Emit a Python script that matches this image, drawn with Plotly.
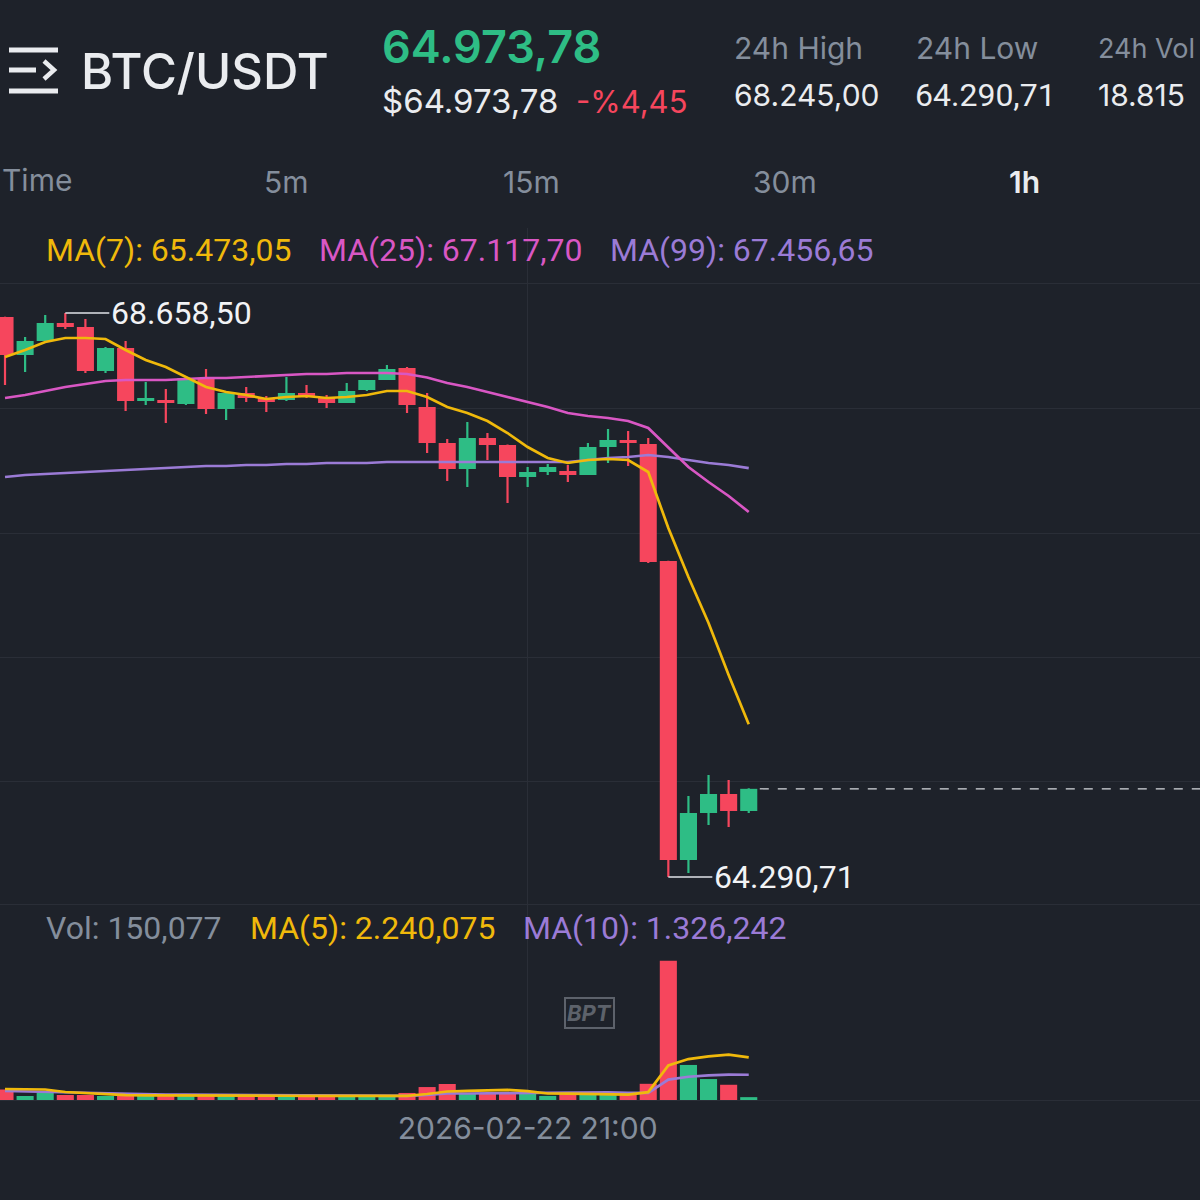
import plotly.graph_objects as go
import pandas as pd

# ---------------- data ----------------
times = pd.date_range("2026-02-21 19:00", periods=38, freq="h")

open_ = [68627.6, 68333.3, 68441.7, 68581.1, 68550.1, 68209.4, 68387.5, 67977.1, 67984.8, 67953.8,
         68155.2, 67915.1, 68039.0, 68000.3, 67984.8, 68039.0, 68008.0, 67961.6, 68062.2, 68139.7,
         68232.6, 67930.6, 67651.8, 67450.5, 67690.5, 67636.3, 67388.5, 67427.2, 67435.0, 67404.0,
         67620.8, 67675.0, 67644.1, 66738.0, 64422.6, 64786.5, 64933.7, 64802.0]
high = [68630.0, 68472.7, 68643.0, 68658.5, 68612.1, 68395.2, 68441.7, 68124.2, 68070.0, 68162.9,
        68224.9, 68046.8, 68085.5, 68015.8, 68162.9, 68101.0, 68023.5, 68116.4, 68070.0, 68255.8,
        68240.4, 68039.0, 67682.8, 67814.4, 67729.2, 67640.0, 67466.0, 67489.2, 67481.4, 67651.8,
        67760.2, 67744.7, 67690.5, 66740.0, 64918.2, 65080.8, 65042.1, 64978.0]
low = [68101.0, 68201.6, 68426.0, 68534.6, 68193.9, 68193.9, 67899.6, 67946.1, 67806.7, 67946.1,
       67876.4, 67829.9, 67969.3, 67891.9, 67977.1, 68000.3, 67922.8, 67961.6, 68054.5, 68139.7,
       67884.1, 67574.4, 67357.5, 67311.1, 67520.2, 67187.2, 67311.1, 67404.0, 67349.8, 67404.0,
       67496.9, 67473.7, 66722.5, 64290.71, 64321.9, 64693.6, 64678.1, 64786.5]
close = [68333.3, 68441.7, 68581.1, 68550.1, 68209.4, 68387.5, 67977.1, 68000.3, 67961.6, 68155.2,
         67915.1, 68039.0, 68000.3, 67969.3, 68039.0, 68008.0, 67961.6, 68054.5, 68139.7, 68224.9,
         67946.1, 67651.8, 67450.5, 67690.5, 67636.3, 67388.5, 67427.2, 67466.0, 67404.0, 67620.8,
         67675.0, 67651.8, 66730.3, 64422.6, 64786.5, 64933.7, 64802.0, 64973.78]

ma7 = [68317.8, 68372.0, 68434.0, 68464.9, 68464.9, 68457.2, 68372.0, 68294.6, 68240.4, 68162.9,
       68085.5, 68046.8, 68023.5, 67992.5, 68008.0, 68015.8, 68000.3, 68008.0, 68023.5, 68054.5,
       68054.5, 68008.0, 67930.6, 67884.1, 67822.2, 67729.2, 67620.8, 67535.6, 67496.9, 67520.2,
       67527.9, 67520.2, 67427.2, 66993.6, 66614.1, 66257.9, 65855.2, 65473.05]
ma25 = [68000.3, 68023.5, 68054.5, 68085.5, 68108.7, 68131.9, 68139.7, 68139.7, 68139.7, 68147.4,
        68155.2, 68155.2, 68162.9, 68170.7, 68178.4, 68186.1, 68186.1, 68193.9, 68193.9, 68193.9,
        68186.1, 68159.0, 68116.5, 68085.5, 68046.8, 68008.0, 67969.3, 67930.6, 67884.1, 67860.9,
        67845.4, 67822.2, 67768.0, 67620.8, 67466.0, 67349.8, 67241.4, 67117.70]
ma99 = [67388.5, 67404.0, 67411.7, 67419.5, 67427.2, 67435.0, 67442.7, 67450.5, 67458.2, 67466.0,
        67473.7, 67473.7, 67481.4, 67481.4, 67489.2, 67489.2, 67496.9, 67496.9, 67496.9, 67504.7,
        67504.7, 67504.7, 67504.7, 67504.7, 67504.7, 67504.7, 67504.7, 67504.7, 67504.7, 67520.2,
        67535.6, 67543.4, 67558.9, 67543.4, 67520.2, 67496.9, 67481.4, 67456.65]

volume = [551, 210, 367, 262, 262, 210, 262, 255, 250, 258,
          262, 215, 205, 220, 210, 215, 205, 185, 180, 160,
          370, 680, 840, 360, 350, 420, 365, 215, 320, 270,
          265, 355, 850, 7310, 1840, 1100, 800, 150.077]
vol_ma5 = [577, 577, 550, 420, 367, 280, 253, 248, 248, 251,
           257, 248, 238, 232, 222, 213, 211, 207, 197, 189,
           220, 315, 446, 482, 520, 530, 467, 342, 334, 318,
           287, 285, 412, 1810, 2150, 2291, 2380, 2240.075]
vol_ma10 = [472, 446, 420, 394, 367, 341, 315, 300, 290, 282,
            275, 262, 246, 241, 236, 228, 222, 218, 214, 208,
            217, 263, 349, 341, 355, 375, 391, 394, 408, 419,
            408, 376, 377, 1072, 1221, 1289, 1332, 1326.242]

price_grid = [68890.8, 67922.8, 66954.8, 65994.4, 65034.3, 64074.1]

pair = "BTC/USDT"
last_price = 64973.78
change_pct = -4.45
high_24h = 68245.00
low_24h = 64290.71
vol_24h_text = "18.815"
tabs = ["Time", "5m", "15m", "30m", "1h"]
active_tab = "1h"
date_label_index = 26

# ---------------- style ----------------
BG = "#1e222a"
GRID = "#2a2e37"
GREEN = "#2ebd85"
RED = "#f6465d"
YEL = "#f0b90b"
MAG = "#d957c4"
PUR = "#9b7bd6"
GREY = "#848e9c"
WHITE = "#eaecef"
FONT = "Inter, Roboto, sans-serif"
NUMFONT = "Roboto, Inter, sans-serif"


def eu(v, d):
    s = f"{v:,.{d}f}"
    return s.replace(",", "X").replace(".", ",").replace("X", ".")


def px_x(p):
    return p / 1200.0


def px_y(p):
    return 1 - p / 1200.0


colors = [GREEN if c >= o else RED for o, c in zip(open_, close)]
body_base = [min(o, c) for o, c in zip(open_, close)]
body_h = [abs(c - o) for o, c in zip(open_, close)]
wick_h = [h - l for h, l in zip(high, low)]

hour_ms = 3600 * 1000
fig = go.Figure()

# wicks
fig.add_trace(go.Bar(x=times, y=wick_h, base=low, width=0.11 * hour_ms,
                     marker=dict(color=colors, line=dict(width=0)),
                     xaxis="x", yaxis="y", hoverinfo="skip"))
# bodies
fig.add_trace(go.Bar(x=times, y=body_h, base=body_base, width=0.85 * hour_ms,
                     marker=dict(color=colors, line=dict(width=0)),
                     xaxis="x", yaxis="y", hoverinfo="skip"))
# MAs
for arr, col in [(ma99, PUR), (ma25, MAG), (ma7, YEL)]:
    fig.add_trace(go.Scatter(x=times, y=arr, mode="lines",
                             line=dict(color=col, width=2.7), xaxis="x", yaxis="y",
                             hoverinfo="skip"))

# volume
fig.add_trace(go.Bar(x=times, y=volume, width=0.85 * hour_ms,
                     marker=dict(color=colors, line=dict(width=0)),
                     xaxis="x2", yaxis="y2", hoverinfo="skip"))
for arr, col in [(vol_ma10, PUR), (vol_ma5, YEL)]:
    fig.add_trace(go.Scatter(x=times, y=arr, mode="lines",
                             line=dict(color=col, width=2.7), xaxis="x2", yaxis="y2",
                             hoverinfo="skip"))

t0 = times[0]
x_range = [t0 - pd.Timedelta(hours=0.249), t0 + pd.Timedelta(hours=59.45)]

annotations = []


def txt(text, x, y, size, color, xanchor="left", weight=400, family=FONT):
    annotations.append(dict(text=text, x=x, y=y, xref="paper", yref="paper",
                            xanchor=xanchor, yanchor="middle", showarrow=False,
                            font=dict(family=family, size=size, color=color, weight=weight)))


# header
txt(pair, px_x(79), px_y(71), 49, WHITE, weight=500)
txt(eu(last_price, 2), px_x(380), px_y(46), 45, GREEN, weight=600)
txt("$" + eu(last_price, 2), px_x(380), px_y(101), 33, WHITE)
txt(("-" if change_pct < 0 else "+") + "%" + eu(abs(change_pct), 2), px_x(574), px_y(101), 31, RED)
txt("24h High", px_x(732), px_y(48), 30, GREY)
txt(eu(high_24h, 2), px_x(732), px_y(95), 30, WHITE)
txt("24h Low", px_x(914), px_y(48), 30, GREY)
txt(eu(low_24h, 2), px_x(913), px_y(95), 32, WHITE, family=NUMFONT)
txt("24h Vol", px_x(1096), px_y(48), 27, GREY)
txt(vol_24h_text, px_x(1096), px_y(95), 30, WHITE)

# tabs
tab_x = [0, 286, 531, 785, 1024]
for t, xx in zip(tabs, tab_x):
    if t == "Time":
        txt(t, px_x(xx), px_y(180), 30, GREY, xanchor="left")
    else:
        txt(t, px_x(xx), px_y(182), 30, WHITE if t == active_tab else GREY,
            xanchor="center", weight=600 if t == active_tab else 400)

# MA legend
txt(f"MA(7): {eu(ma7[-1], 2)}", px_x(44), px_y(250), 32, YEL, family=NUMFONT)
txt(f"MA(25): {eu(ma25[-1], 2)}", px_x(317), px_y(250), 32, MAG, family=NUMFONT)
txt(f"MA(99): {eu(ma99[-1], 2)}", px_x(608), px_y(250), 32, PUR, family=NUMFONT)

# volume legend
txt(f"Vol: {eu(volume[-1], 3)}", px_x(44), px_y(928), 32, GREY, family=NUMFONT)
txt(f"MA(5): {eu(vol_ma5[-1], 3)}", px_x(248), px_y(928), 32, YEL, family=NUMFONT)
txt(f"MA(10): {eu(vol_ma10[-1], 3)}", px_x(521), px_y(928), 32, PUR, family=NUMFONT)

# high / low markers
i_hi = max(range(len(high)), key=lambda i: high[i])
i_lo = min(range(len(low)), key=lambda i: low[i])
for i, val in [(i_hi, high[i_hi]), (i_lo, low[i_lo])]:
    annotations.append(dict(x=times[i], y=val, xref="x", yref="y", text=eu(val, 2),
                            showarrow=True, ax=44, ay=0, xanchor="left", yanchor="middle",
                            arrowhead=0, arrowwidth=1.3, arrowcolor="#dfe2e7", standoff=0,
                            font=dict(family=NUMFONT, size=32, color="#f2f3f5")))

# watermark
annotations.append(dict(text="<b><i>BPT</i></b>", x=px_x(589), y=px_y(1029), xref="paper", yref="paper",
                        showarrow=False, font=dict(family=FONT, size=22, color="#5d626b"),
                        bordercolor="#5d626b", borderwidth=2, borderpad=1))

shapes = [
    # menu icon
    dict(type="line", xref="paper", yref="paper", x0=px_x(9), x1=px_x(58), y0=px_y(50), y1=px_y(50),
         line=dict(color=WHITE, width=5)),
    dict(type="line", xref="paper", yref="paper", x0=px_x(9), x1=px_x(36), y0=px_y(70), y1=px_y(70),
         line=dict(color=WHITE, width=5)),
    dict(type="line", xref="paper", yref="paper", x0=px_x(9), x1=px_x(58), y0=px_y(91), y1=px_y(91),
         line=dict(color=WHITE, width=5)),
    dict(type="path", xref="paper", yref="paper",
         path=f"M {px_x(44)},{px_y(61)} L {px_x(54)},{px_y(70)} L {px_x(44)},{px_y(79)}",
         line=dict(color=WHITE, width=4.5)),
    # current price dashed line
    dict(type="line", xref="x", yref="y",
         x0=times[-1] + pd.Timedelta(hours=0.55), x1=x_range[1],
         y0=close[-1], y1=close[-1], line=dict(color="#d6d9de", width=1.2, dash="dash")),
]

fig.update_layout(
    width=1200, height=1200,
    margin=dict(l=0, r=0, t=0, b=0),
    paper_bgcolor=BG, plot_bgcolor=BG,
    showlegend=False, barmode="overlay",
    font=dict(family=FONT, color=GREY),
    xaxis=dict(domain=[0, 1], anchor="y", range=x_range, showticklabels=False,
               showgrid=True, gridcolor=GRID, gridwidth=1, tickvals=[times[date_label_index]],
               zeroline=False, showline=False, fixedrange=True),
    xaxis2=dict(domain=[0, 1], anchor="y2", range=x_range, matches="x",
                showgrid=True, gridcolor=GRID, gridwidth=1, tickvals=[times[date_label_index]],
                tickformat="%Y-%m-%d %H:%M", ticks="", ticklabelstandoff=2,
                tickfont=dict(family=FONT, size=30, color=GREY),
                showline=True, linecolor=GRID, linewidth=1, zeroline=False),
    yaxis=dict(domain=[px_y(915), px_y(228)], range=[63996.6, 69316.8],
               tickvals=price_grid, showticklabels=False, showgrid=True,
               gridcolor=GRID, gridwidth=1, zeroline=False, showline=False),
    yaxis2=dict(domain=[px_y(1100), px_y(915)], range=[0, 9712.5],
                showgrid=False, showticklabels=False, zeroline=False, showline=False),
    annotations=annotations,
    shapes=shapes,
)

fig.write_html("out.html", config={"displayModeBar": False},
               post_script="document.body.style.margin='0';document.body.style.background='" + BG + "';")
